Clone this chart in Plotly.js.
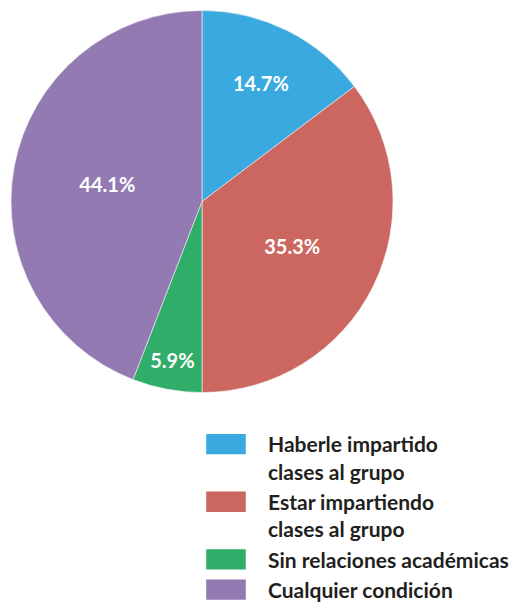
<!DOCTYPE html>
<html>
<head>
<meta charset="utf-8">
<script src="https://cdn.plot.ly/plotly-3.0.1.min.js"></script>
<style>html,body{margin:0;padding:0;background:#fff;}#chart{width:524px;height:603px;}</style>
</head>
<body>
<div id="chart"></div>
<script>
const categories = [
  "Haberle impartido<br>clases al grupo",
  "Estar impartiendo<br>clases al grupo",
  "Sin relaciones académicas",
  "Cualquier condición"
];
const counts = [5, 12, 2, 15];
const colors = ["#3AA9E0", "#CC6660", "#31AD6A", "#937AB2"];

const trace = {
  type: "pie",
  labels: categories,
  values: counts,
  sort: false,
  direction: "clockwise",
  rotation: 0,
  marker: {colors: colors, line: {color: "#f2f2f2", width: 0.6}},
  textinfo: "percent",
  texttemplate: "%{percent:.1%}",
  textposition: "inside",
  insidetextorientation: "horizontal",
  textfont: {family: "Lato, 'Open Sans', sans-serif", size: 20, color: "#ffffff", weight: "bold"},
  domain: {x: [11/524, 393/524], y: [1 - 393/603, 1 - 10/603]},
  hoverinfo: "none"
};

const layout = {
  width: 524,
  height: 603,
  margin: {l: 0, r: 0, t: 0, b: 0, autoexpand: false},
  paper_bgcolor: "#ffffff",
  showlegend: true,
  legend: {
    x: 206/524, xanchor: "left",
    y: 1 - 424/603, yanchor: "top",
    valign: "top",
    font: {family: "Lato, 'Open Sans', sans-serif", size: 21, color: "#231F20", weight: "bold"},
    itemwidth: 52,
    tracegroupgap: 0
  }
};

Plotly.newPlot("chart", [trace], layout, {displayModeBar: false, staticPlot: true}).then(function(gd){
  gd.querySelectorAll(".legendpoints path").forEach(function(p){
    p.setAttribute("transform", "translate(20,0) scale(3.3,1.7)");
    p.style.strokeWidth = "0";
  });
});
</script>
</body>
</html>
